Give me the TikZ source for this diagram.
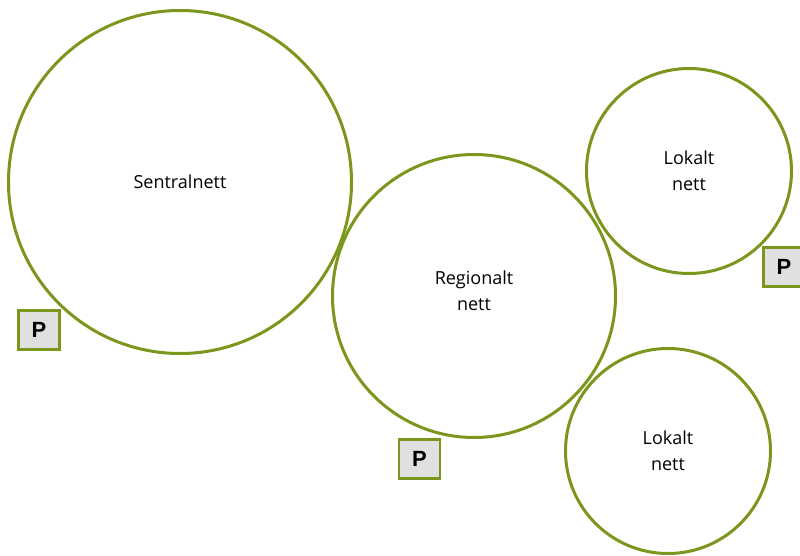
\documentclass[tikz,border=0pt]{standalone}
\usepackage{fontspec}
\setmainfont{Open Sans}
\newfontfamily\pfont{Liberation Sans}
\definecolor{nettgreen}{RGB}{122,150,28}
\definecolor{pgray}{RGB}{224,224,224}
\tikzset{
  nett/.style={circle, draw=nettgreen, line width=3pt, inner sep=0pt, align=center, font=\fontsize{18}{26}\selectfont},
  pbox/.style={draw=nettgreen, fill=pgray, line width=2.6pt, minimum width=41pt, minimum height=39pt, inner sep=0pt, font=\pfont\bfseries\fontsize{22}{22}\selectfont}
}
\begin{document}
\begin{tikzpicture}[x=1pt,y=-1pt]
                    \useasboundingbox (0,0) rectangle (800,556);
                    \node[nett, minimum size=343pt] (sentral) at (180,182) {Sentralnett};
                    \node[nett, minimum size=283pt, text depth=10pt] (regional) at (474,296) {Regionalt\\nett};
                    \node[nett, minimum size=205pt] (lokalt1) at (689,171) {Lokalt\\nett};
                    \node[nett, minimum size=205pt] (lokalt2) at (668,451) {Lokalt\\nett};
                    \node[pbox] (p1) at (39,330) {P};
                    \node[pbox] (p2) at (419.5,459) {P};
                    \node[pbox] (p3) at (784,267) {P};
            \end{tikzpicture}
\end{document}
